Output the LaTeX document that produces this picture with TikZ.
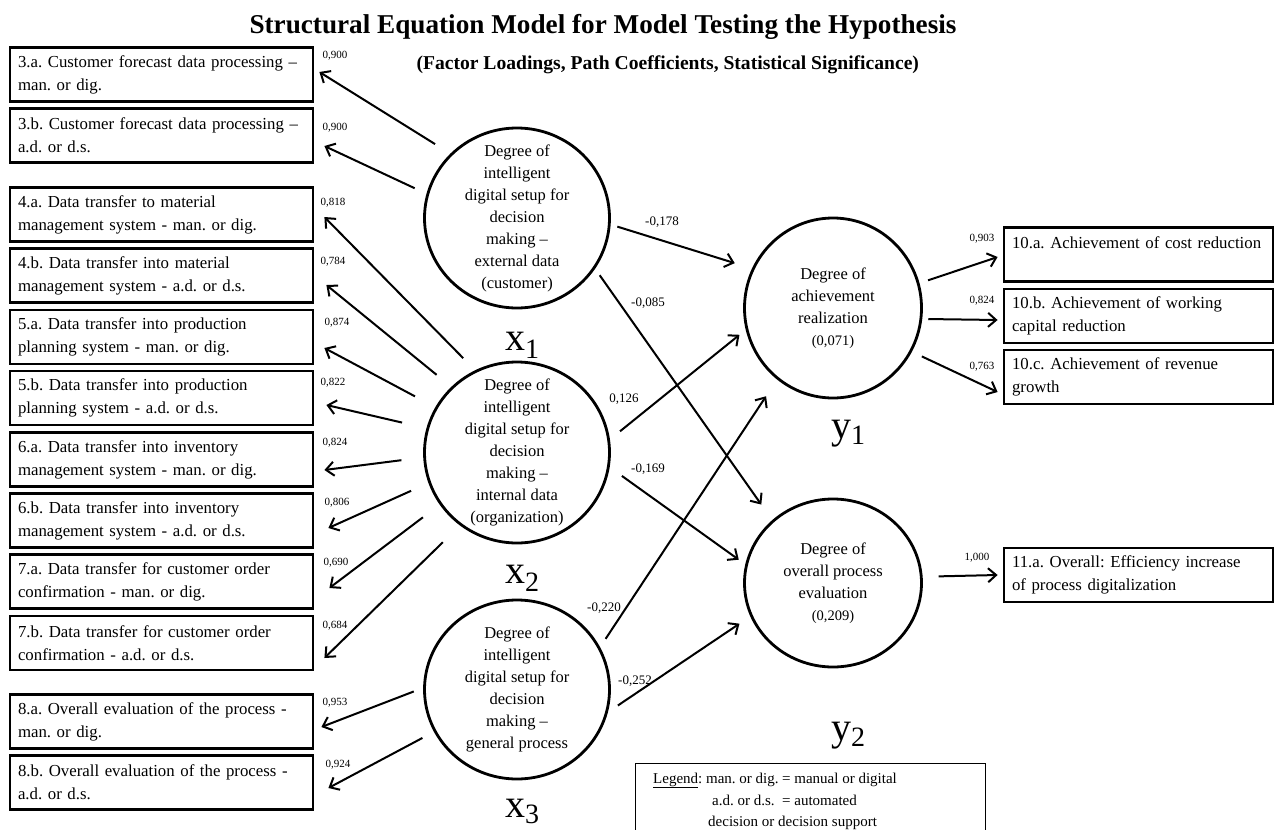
\documentclass[tikz,border=0pt]{standalone}
\usepackage{fontspec}
\setmainfont{Liberation Serif}
\usetikzlibrary{arrows.meta,shapes.geometric}
\hyphenpenalty=10000
\exhyphenpenalty=10000
\frenchspacing
\begin{document}
\begin{tikzpicture}[x=1pt,y=-1pt,
  ind/.style={draw, line width=2.8pt, rectangle, inner ysep=0pt, minimum height=54pt,
    align=left, font=\fontsize{16.8}{23}\selectfont},
  lbox/.style={ind, text width=287pt, inner xsep=8pt},
  rbox/.style={ind, text width=253pt, inner xsep=8pt},
  lat/.style={draw, ellipse, line width=2.8pt, inner sep=0pt},
  lattext/.style={align=center, inner sep=0pt, font=\fontsize{16.5}{22}\selectfont},
  arr/.style={line width=2pt, -{Straight Barb[length=8pt,width=14pt]}},
  load/.style={font=\fontsize{11}{11}\selectfont, inner sep=0pt},
  coef/.style={font=\fontsize{13}{13}\selectfont, inner sep=0pt},
  varname/.style={font=\fontsize{40}{40}\selectfont, inner sep=0pt, anchor=base},
]
\useasboundingbox (0,0) rectangle (1278,830);

% title
\node[font=\fontsize{27.2}{28}\selectfont\bfseries, anchor=base] (title) at (603,33)
  {Structural Equation Model for Model Testing the Hypothesis};
\node[font=\fontsize{19.6}{20}\selectfont\bfseries, anchor=base west] (subtitle) at (413,69)
  {(Factor Loadings, Path Coefficients, Statistical Significance)};

% indicator boxes, left
\node[lbox] (b3a) at (161.5,74.5)  {3.a. Customer forecast data processing --\\man. or dig.};
\node[lbox] (b3b) at (161.5,135.5) {3.b. Customer forecast data processing --\\a.d. or d.s.};
\node[lbox] (b4a) at (161.5,214.5) {4.a. Data transfer to material\\management system - man. or dig.};
\node[lbox] (b4b) at (161.5,275.5) {4.b. Data transfer into material\\management system - a.d. or d.s.};
\node[lbox] (b5a) at (161.5,337)   {5.a. Data transfer into production\\planning system - man. or dig.};
\node[lbox] (b5b) at (161.5,398)   {5.b. Data transfer into production\\planning system - a.d. or d.s.};
\node[lbox] (b6a) at (161.5,459.5) {6.a. Data transfer into inventory\\management system - man. or dig.};
\node[lbox] (b6b) at (161.5,520.5) {6.b. Data transfer into inventory\\management system - a.d. or d.s.};
\node[lbox] (b7a) at (161.5,581.5) {7.a. Data transfer for customer order\\confirmation - man. or dig.};
\node[lbox] (b7b) at (161.5,643)   {7.b. Data transfer for customer order\\confirmation - a.d. or d.s.};
\node[lbox] (b8a) at (161.5,721.5) {8.a. Overall evaluation of the process -\\man. or dig.};
\node[lbox] (b8b) at (161.5,782.5) {8.b. Overall evaluation of the process -\\a.d. or d.s.};

% indicator boxes, right
\node[rbox] (b10a) at (1138.5,254.5) {\mbox{10.a. Achievement of cost reduction}\\\mbox{}};
\node[rbox] (b10b) at (1138.5,316)   {10.b. Achievement of working\\capital reduction};
\node[rbox] (b10c) at (1138.5,377)   {10.c. Achievement of revenue\\growth};
\node[rbox] (b11a) at (1138.5,575)   {11.a. Overall: Efficiency increase\\of process digitalization};

% latent variables
\node[lat, minimum width=185pt, minimum height=180pt] (x1) at (517,218) {};
\node[lat, minimum width=185pt, minimum height=181pt] (x2) at (517,452.5) {};
\node[lat, minimum width=185pt, minimum height=179pt] (x3) at (517,689.5) {};
\node[lat, minimum width=177pt, minimum height=180pt] (y1) at (833,308) {};
\node[lat, minimum width=177pt, minimum height=168pt] (y2) at (833,583) {};

\node[lattext] (x1t) at (x1.center) {Degree of\\intelligent\\digital setup for\\decision\\making --\\external data\\(customer)};
\node[lattext] (x2t) at (x2.center) {Degree of\\intelligent\\digital setup for\\decision\\making --\\internal data\\(organization)};
\node[lattext] (x3t) at (x3.center) {Degree of\\intelligent\\digital setup for\\decision\\making --\\general process};
\node[lattext] (y1t) at (y1.center) {Degree of\\achievement\\realization\\{\fontsize{14.5}{20}\selectfont (0,071)}};
\node[lattext] (y2t) at (y2.center) {Degree of\\overall process\\evaluation\\{\fontsize{14.5}{20}\selectfont (0,209)}};

% variable symbols
\node[varname] (x1n) at (522,350) {x\raisebox{-8pt}{\fontsize{28}{28}\selectfont 1}};
\node[varname] (x2n) at (522,583) {x\raisebox{-8pt}{\fontsize{28}{28}\selectfont 2}};
\node[varname] (x3n) at (522,817) {x\raisebox{-6pt}{\fontsize{28}{28}\selectfont 3}};
\node[varname] (y1n) at (848,438) {y\raisebox{-6pt}{\fontsize{28}{28}\selectfont 1}};
\node[varname] (y2n) at (848,740) {y\raisebox{-6pt}{\fontsize{28}{28}\selectfont 2}};

% loadings of the exogenous constructs
\draw[arr, shorten <=18pt] (x1.136.5) -- ([xshift=5pt,yshift=2.5pt]b3a.east);
\draw[arr, shorten <=13pt] (x1.165.7) -- ([xshift=10pt,yshift=-10.5pt]b3b.east);
\draw[arr, shorten <=17pt] (x2.117.6) -- ([xshift=10pt,yshift=-2.5pt]b4a.east);
\draw[arr, shorten <=19pt] (x2.135.2) -- ([xshift=12pt,yshift=-9.5pt]b4b.east);
\draw[arr, shorten <=23pt] (x2.151)   -- ([xshift=10pt,yshift=-11pt]b5a.east);
\draw[arr, shorten <=25pt] (x2.165.4) -- ([xshift=12pt,yshift=-7pt]b5b.east);
\draw[arr, shorten <=22pt] (x2.183.3) -- ([xshift=10pt,yshift=-10.5pt]b6a.east);
\draw[arr, shorten <=19pt] (x2.199.8) -- ([xshift=14pt,yshift=-7.5pt]b6b.east);
\draw[arr, shorten <=21pt] (x2.214.6) -- ([xshift=15pt,yshift=-6.5pt]b7a.east);
\draw[arr, shorten <=24pt] (x2.232.6) -- ([xshift=10pt,yshift=-15pt]b7b.east);
\draw[arr, shorten <=10pt] (x3.179.1) -- ([xshift=7pt,yshift=-5.5pt]b8a.east);
\draw[arr, shorten <=13pt] (x3.207.8) -- ([xshift=14pt,yshift=-5.5pt]b8b.east);

\node[load] (l3a) at (335,56)  {0,900};
\node[load] (l3b) at (335,128) {0,900};
\node[load] (l4a) at (333,203) {0,818};
\node[load] (l4b) at (333,262) {0,784};
\node[load] (l5a) at (337,323) {0,874};
\node[load] (l5b) at (333,383) {0,822};
\node[load] (l6a) at (335,443) {0,824};
\node[load] (l6b) at (337,503) {0,806};
\node[load] (l7a) at (336,563) {0,690};
\node[load] (l7b) at (335,626) {0,684};
\node[load] (l8a) at (335,703) {0,953};
\node[load] (l8b) at (338,765) {0,924};

% structural paths
\draw[arr, shorten <=7pt,  shorten >=18pt] (x1.-4)    -- (y1.154.6);
\draw[arr, shorten <=8pt,  shorten >=19pt] (x1.-33)   -- (y2.134.2);
\draw[arr, shorten <=13pt, shorten >=8pt]  (x2.8.6)   -- (y1.194.9);
\draw[arr, shorten <=15pt, shorten >=8pt]  (x2.-9.5)  -- (y2.168);
\draw[arr, shorten <=10pt, shorten >=20pt] (x3.27.3)  -- (y1.232.8);
\draw[arr, shorten <=12pt, shorten >=13pt] (x3.-14.3) -- (y2.202.8);

\node[coef] (c11) at (662,222) {-0,178};
\node[coef] (c12) at (648,303) {-0,085};
\node[coef] (c21) at (624,399) {0,126};
\node[coef] (c22) at (648,469) {-0,169};
\node[coef] (c31) at (604,608) {-0,220};
\node[coef] (c32) at (635,681) {-0,252};

% loadings of the endogenous constructs
\draw[arr, shorten <=9pt]  (y1.16.6)  -- ([xshift=-5pt,yshift=-2.5pt]b10a.west);
\draw[arr, shorten <=6pt]  (y1.-7.3)  -- ([xshift=-5pt,yshift=-4pt]b10b.west);
\draw[arr, shorten <=11pt] (y1.-29.4) -- ([xshift=-5pt,yshift=-15pt]b10c.west);
\draw[arr, shorten <=16pt] (y2.4.4)   -- ([xshift=-5pt]b11a.west);

\node[load] (l10a) at (982,239) {0,903};
\node[load] (l10b) at (982,301) {0,824};
\node[load] (l10c) at (982,367) {0,763};
\node[load] (l11a) at (977,558) {1,000};

% legend
\node[draw, line width=1.3pt, minimum width=350pt, minimum height=80pt, anchor=north west, inner sep=0pt] (legend) at (635,763) {};
\begin{scope}[every node/.style={font=\fontsize{15}{15}\selectfont, inner sep=0pt, anchor=base west}]
  \node (lg1) at (653,783) {\underline{Legend}: man. or dig.};
  \node (lg1b) at (782,783) {= manual or digital};
  \node (lg2) at (712,805) {a.d. or d.s.};
  \node (lg2b) at (782,805) {= automated};
  \node (lg3) at (708,826) {decision or decision support};
\end{scope}
\end{tikzpicture}
\end{document}
